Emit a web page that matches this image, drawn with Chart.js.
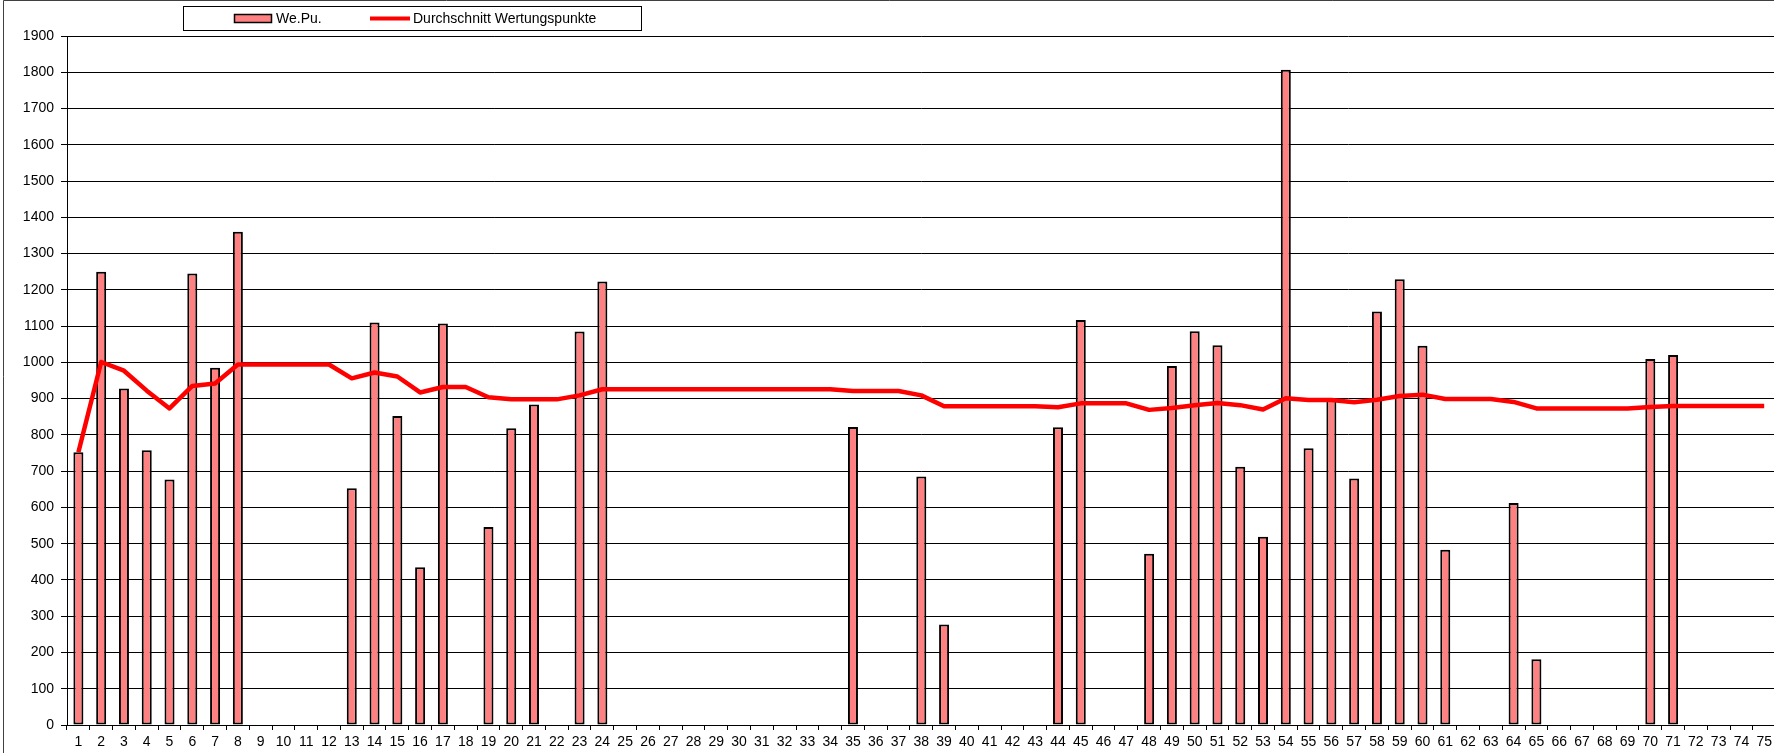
<!DOCTYPE html>
<html>
<script src="https://cdn.jsdelivr.net/npm/chart.js@4.4.0/dist/chart.umd.min.js"></script>
<body style="margin:0;overflow:hidden;background:#ffffff">

<canvas id="pointsChart" width="1776" height="753"></canvas>

<script>

    // round numbers on the category axis
    let rounds = ["1", "2", "3", "4", "5", "6", "7", "8", "9", "10",
        "11", "12", "13", "14", "15", "16", "17", "18", "19", "20",
        "21", "22", "23", "24", "25", "26", "27", "28", "29", "30",
        "31", "32", "33", "34", "35", "36", "37", "38", "39", "40",
        "41", "42", "43", "44", "45", "46", "47", "48", "49", "50",
        "51", "52", "53", "54", "55", "56", "57", "58", "59", "60",
        "61", "62", "63", "64", "65", "66", "67", "68", "69", "70",
        "71", "72", "73", "74", "75"];

    // points per round (null = no entry that round)
    let wePu = [752, 1250, 928, 758, 677, 1245, 985, 1360, null, null,
        null, null, 653, 1110, 852, 435, 1107, null, 546, 818,
        884, null, 1085, 1223, null, null, null, null, null, null,
        null, null, null, null, 822, null, null, 685, 277, null,
        null, null, null, 821, 1117, null, null, 472, 990, 1086,
        1047, 712, 519, 1807, 763, 900, 680, 1140, 1229, 1046,
        483, null, null, 612, 181, null, null, null, null, 1009,
        1020, null, null, null, null];

    // running average
    let average = [752, 1001, 977, 922, 873, 935, 942, 994, 994, 994,
        994, 994, 956, 972, 961, 917, 932, 932, 904, 898,
        898, 898, 909, 926, 926, 926, 926, 926, 926, 926,
        926, 926, 926, 926, 921, 921, 921, 909, 879, 879,
        879, 879, 879, 876, 887, 887, 887, 869, 874, 882,
        888, 882, 870, 901, 896, 896, 890, 897, 907, 911,
        899, 899, 899, 891, 873, 873, 873, 873, 873, 877,
        880, 880, 880, 880, 880];

    let yTicks = {min: 0, max: 1900, step: 100};

    let barColor = "#FF8080";
    let lineColor = "#FF0000";
    let fontName = "'Liberation Sans', Arial, sans-serif";

    // frame round the chart and the boxed legend in the top left
    const frameAndLegend = {
        id: "frameAndLegend",
        afterDraw(chart) {
            const ctx = chart.ctx;
            const sets = chart.data.datasets;
            ctx.save();

            ctx.strokeStyle = "#404040";
            ctx.lineWidth = 1;
            ctx.beginPath();
            ctx.moveTo(3.5, chart.height);
            ctx.lineTo(3.5, 0.5);
            ctx.lineTo(chart.width, 0.5);
            ctx.stroke();

            ctx.fillStyle = "#ffffff";
            ctx.fillRect(184, 7, 457, 23);
            ctx.strokeStyle = "#000000";
            ctx.strokeRect(183.5, 6.5, 458, 24);

            // bar swatch
            ctx.fillStyle = barColor;
            ctx.fillRect(234, 14, 38, 8);
            ctx.lineWidth = 1.5;
            ctx.strokeRect(234.5, 14.5, 37, 8);

            // line swatch
            ctx.strokeStyle = lineColor;
            ctx.lineWidth = 4;
            ctx.beginPath();
            ctx.moveTo(370, 18.5);
            ctx.lineTo(410, 18.5);
            ctx.stroke();

            ctx.fillStyle = "#000000";
            ctx.font = "14px " + fontName;
            ctx.textBaseline = "middle";
            ctx.fillText(sets[1].label, 276, 19);
            ctx.fillText(sets[0].label, 413, 19);
            ctx.restore();
        }
    };

    new Chart("pointsChart", {
        type: "bar",
        data: {
            labels: rounds,
            datasets: [{
                type: "line",
                label: "Durchschnitt Wertungspunkte",
                data: average,
                borderColor: lineColor,
                borderWidth: 4.5,
                borderJoinStyle: "round",
                pointRadius: 0,
                tension: 0,
                fill: false,
                order: 0
            }, {
                label: "We.Pu.",
                data: wePu,
                backgroundColor: barColor,
                borderColor: "#000000",
                borderWidth: 2,
                borderSkipped: false,
                barPercentage: 0.44,
                categoryPercentage: 1,
                order: 1
            }]
        },
        options: {
            responsive: false,
            animation: false,
            devicePixelRatio: 1,
            layout: {padding: {top: 36, left: 0, right: 0, bottom: 0}},
            plugins: {
                legend: {display: false},
                tooltip: {enabled: false}
            },
            scales: {
                x: {
                    offset: true,
                    grid: {
                        offset: true,
                        drawOnChartArea: false,
                        tickLength: 5,
                        tickColor: "#000000"
                    },
                    border: {color: "#000000", width: 1},
                    ticks: {
                        autoSkip: false,
                        maxRotation: 0,
                        minRotation: 0,
                        padding: 4,
                        color: "#000000",
                        font: {family: fontName, size: 14}
                    },
                    afterFit(scale) { scale.height = 28; }
                },
                y: {
                    min: yTicks.min,
                    max: yTicks.max,
                    grid: {
                        color: "#000000",
                        tickLength: 6,
                        tickColor: "#000000"
                    },
                    border: {color: "#000000", width: 1},
                    ticks: {
                        stepSize: yTicks.step,
                        padding: 7,
                        color: "#000000",
                        font: {family: fontName, size: 14},
                        // plain numbers, no thousands separator
                        callback: value => String(value)
                    },
                    afterFit(scale) { scale.width = 67; }
                }
            }
        },
        plugins: [frameAndLegend]
    });

</script>
</body>
</html>
